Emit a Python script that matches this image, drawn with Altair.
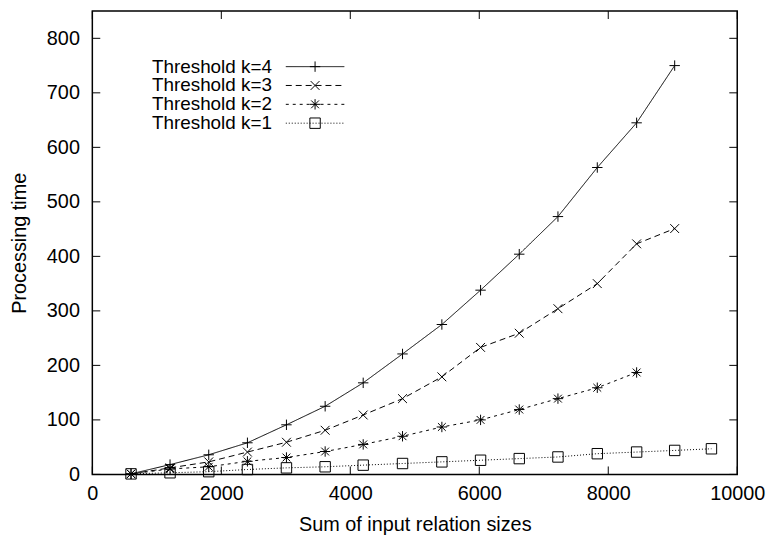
import altair as alt
import pandas as pd

# ---- data ----
x_vals = [600, 1205, 1805, 2405, 3010, 3610, 4200, 4810, 5420, 6020, 6620, 7220, 7830, 8440, 9030, 9600]
k4 = [1, 18, 36, 58, 91, 125, 168, 221, 275, 338, 404, 473, 563, 645, 750]
k3 = [1, 12, 23, 41, 59, 81, 109, 139, 179, 233, 259, 304, 350, 423, 451]
k2 = [1, 10, 14, 24, 31, 42, 55, 70, 87, 100, 119, 139, 159, 187]
k1 = [1, 3, 5, 9, 12, 14, 17, 20, 23, 26, 29, 32, 38, 41, 44, 47]
series_names = ["Threshold k=4", "Threshold k=3", "Threshold k=2", "Threshold k=1"]
series_values = [k4, k3, k2, k1]
x_ticks = [0, 2000, 4000, 6000, 8000, 10000]
y_ticks = [0, 100, 200, 300, 400, 500, 600, 700, 800]

# ---- styles ----
FONT = "Liberation Sans"
FS = 20
LFS = 19
W, H = 650, 467
dashes = [[1, 0], [6, 4], [3, 4], [1, 2]]
plus = "M-1,0L1,0M0,-1L0,1"
cross = "M-0.85,-0.85L0.85,0.85M-0.85,0.85L0.85,-0.85"
star = "M-1,0L1,0M0,-1L0,1M-0.75,-0.75L0.75,0.75M-0.75,0.75L0.75,-0.75"
shapes = [plus, cross, star, "square"]

rows = []
for name, vals in zip(series_names, series_values):
    for xv, yv in zip(x_vals, vals):
        rows.append({"series": name, "x": xv, "y": yv})
df = pd.DataFrame(rows)

xs = alt.Scale(domain=[0, 10000], nice=False, zero=False)
ys = alt.Scale(domain=[0, 850], nice=False, zero=False)

x_axis = alt.Axis(
    title="Sum of input relation sizes", values=x_ticks, format="d", ticks=False, tickSize=0,
    domain=False, grid=False, labelFont=FONT, labelFontSize=FS, labelColor="black",
    labelPadding=9, titleFont=FONT, titleFontSize=FS, titleFontWeight="normal",
    titleColor="black", titlePadding=12, labelFlush=False)
y_axis = alt.Axis(
    title="Processing time", values=y_ticks, format="d", ticks=False, tickSize=0,
    domain=False, grid=False, labelFont=FONT, labelFontSize=FS, labelColor="black",
    labelPadding=13, titleFont=FONT, titleFontSize=FS, titleFontWeight="normal",
    titleColor="black", titlePadding=17, labelFlush=False)

lines = alt.Chart(df).mark_line(color="black", strokeWidth=1).encode(
    x=alt.X("x:Q", scale=xs, axis=x_axis),
    y=alt.Y("y:Q", scale=ys, axis=y_axis),
    strokeDash=alt.StrokeDash("series:N", scale=alt.Scale(domain=series_names, range=dashes), legend=None),
    detail="series:N",
)

points = alt.Chart(df).mark_point(filled=False, color="black", strokeWidth=1, size=110, opacity=1).encode(
    x=alt.X("x:Q", scale=xs, axis=x_axis),
    y=alt.Y("y:Q", scale=ys, axis=y_axis),
    shape=alt.Shape("series:N", scale=alt.Scale(domain=series_names, range=shapes), legend=None),
)

xt = pd.DataFrame({"v": x_ticks})
yt = pd.DataFrame({"v": y_ticks})
tick_bottom = alt.Chart(xt).mark_rule(color="black", strokeWidth=1).encode(
    x=alt.X("v:Q", scale=xs, axis=x_axis), y=alt.value(H), y2=alt.value(H - 8))
tick_top = alt.Chart(xt).mark_rule(color="black", strokeWidth=1).encode(
    x=alt.X("v:Q", scale=xs, axis=x_axis), y=alt.value(0), y2=alt.value(8))
tick_left = alt.Chart(yt).mark_rule(color="black", strokeWidth=1).encode(
    y=alt.Y("v:Q", scale=ys, axis=y_axis), x=alt.value(0), x2=alt.value(8))
tick_right = alt.Chart(yt).mark_rule(color="black", strokeWidth=1).encode(
    y=alt.Y("v:Q", scale=ys, axis=y_axis), x=alt.value(W), x2=alt.value(W - 8))

legend_layers = []
for i, name in enumerate(series_names):
    ly = 56 + 19 * i
    ldf = pd.DataFrame({"t": [name]})
    legend_layers.append(alt.Chart(ldf).mark_text(
        align="right", baseline="middle", font=FONT, fontSize=LFS, color="black").encode(
        x=alt.value(181), y=alt.value(ly), text="t:N"))
    legend_layers.append(alt.Chart(ldf).mark_rule(
        color="black", strokeWidth=1, strokeDash=dashes[i]).encode(
        x=alt.value(195), x2=alt.value(254), y=alt.value(ly)))
    legend_layers.append(alt.Chart(ldf).mark_point(
        filled=False, color="black", strokeWidth=1, size=110, opacity=1, shape=shapes[i]).encode(
        x=alt.value(224.5), y=alt.value(ly)))

chart = alt.layer(
    lines, points, tick_bottom, tick_top, tick_left, tick_right, *legend_layers
).properties(
    width=W, height=H,
    background="white",
    autosize=alt.AutoSizeParams(type="none"),
    padding={"left": 85, "top": 1, "right": 30, "bottom": 62},
).configure_view(
    stroke="black", strokeWidth=1.5
)

chart.save("out.html", embed_options={"renderer": "svg", "actions": False})
